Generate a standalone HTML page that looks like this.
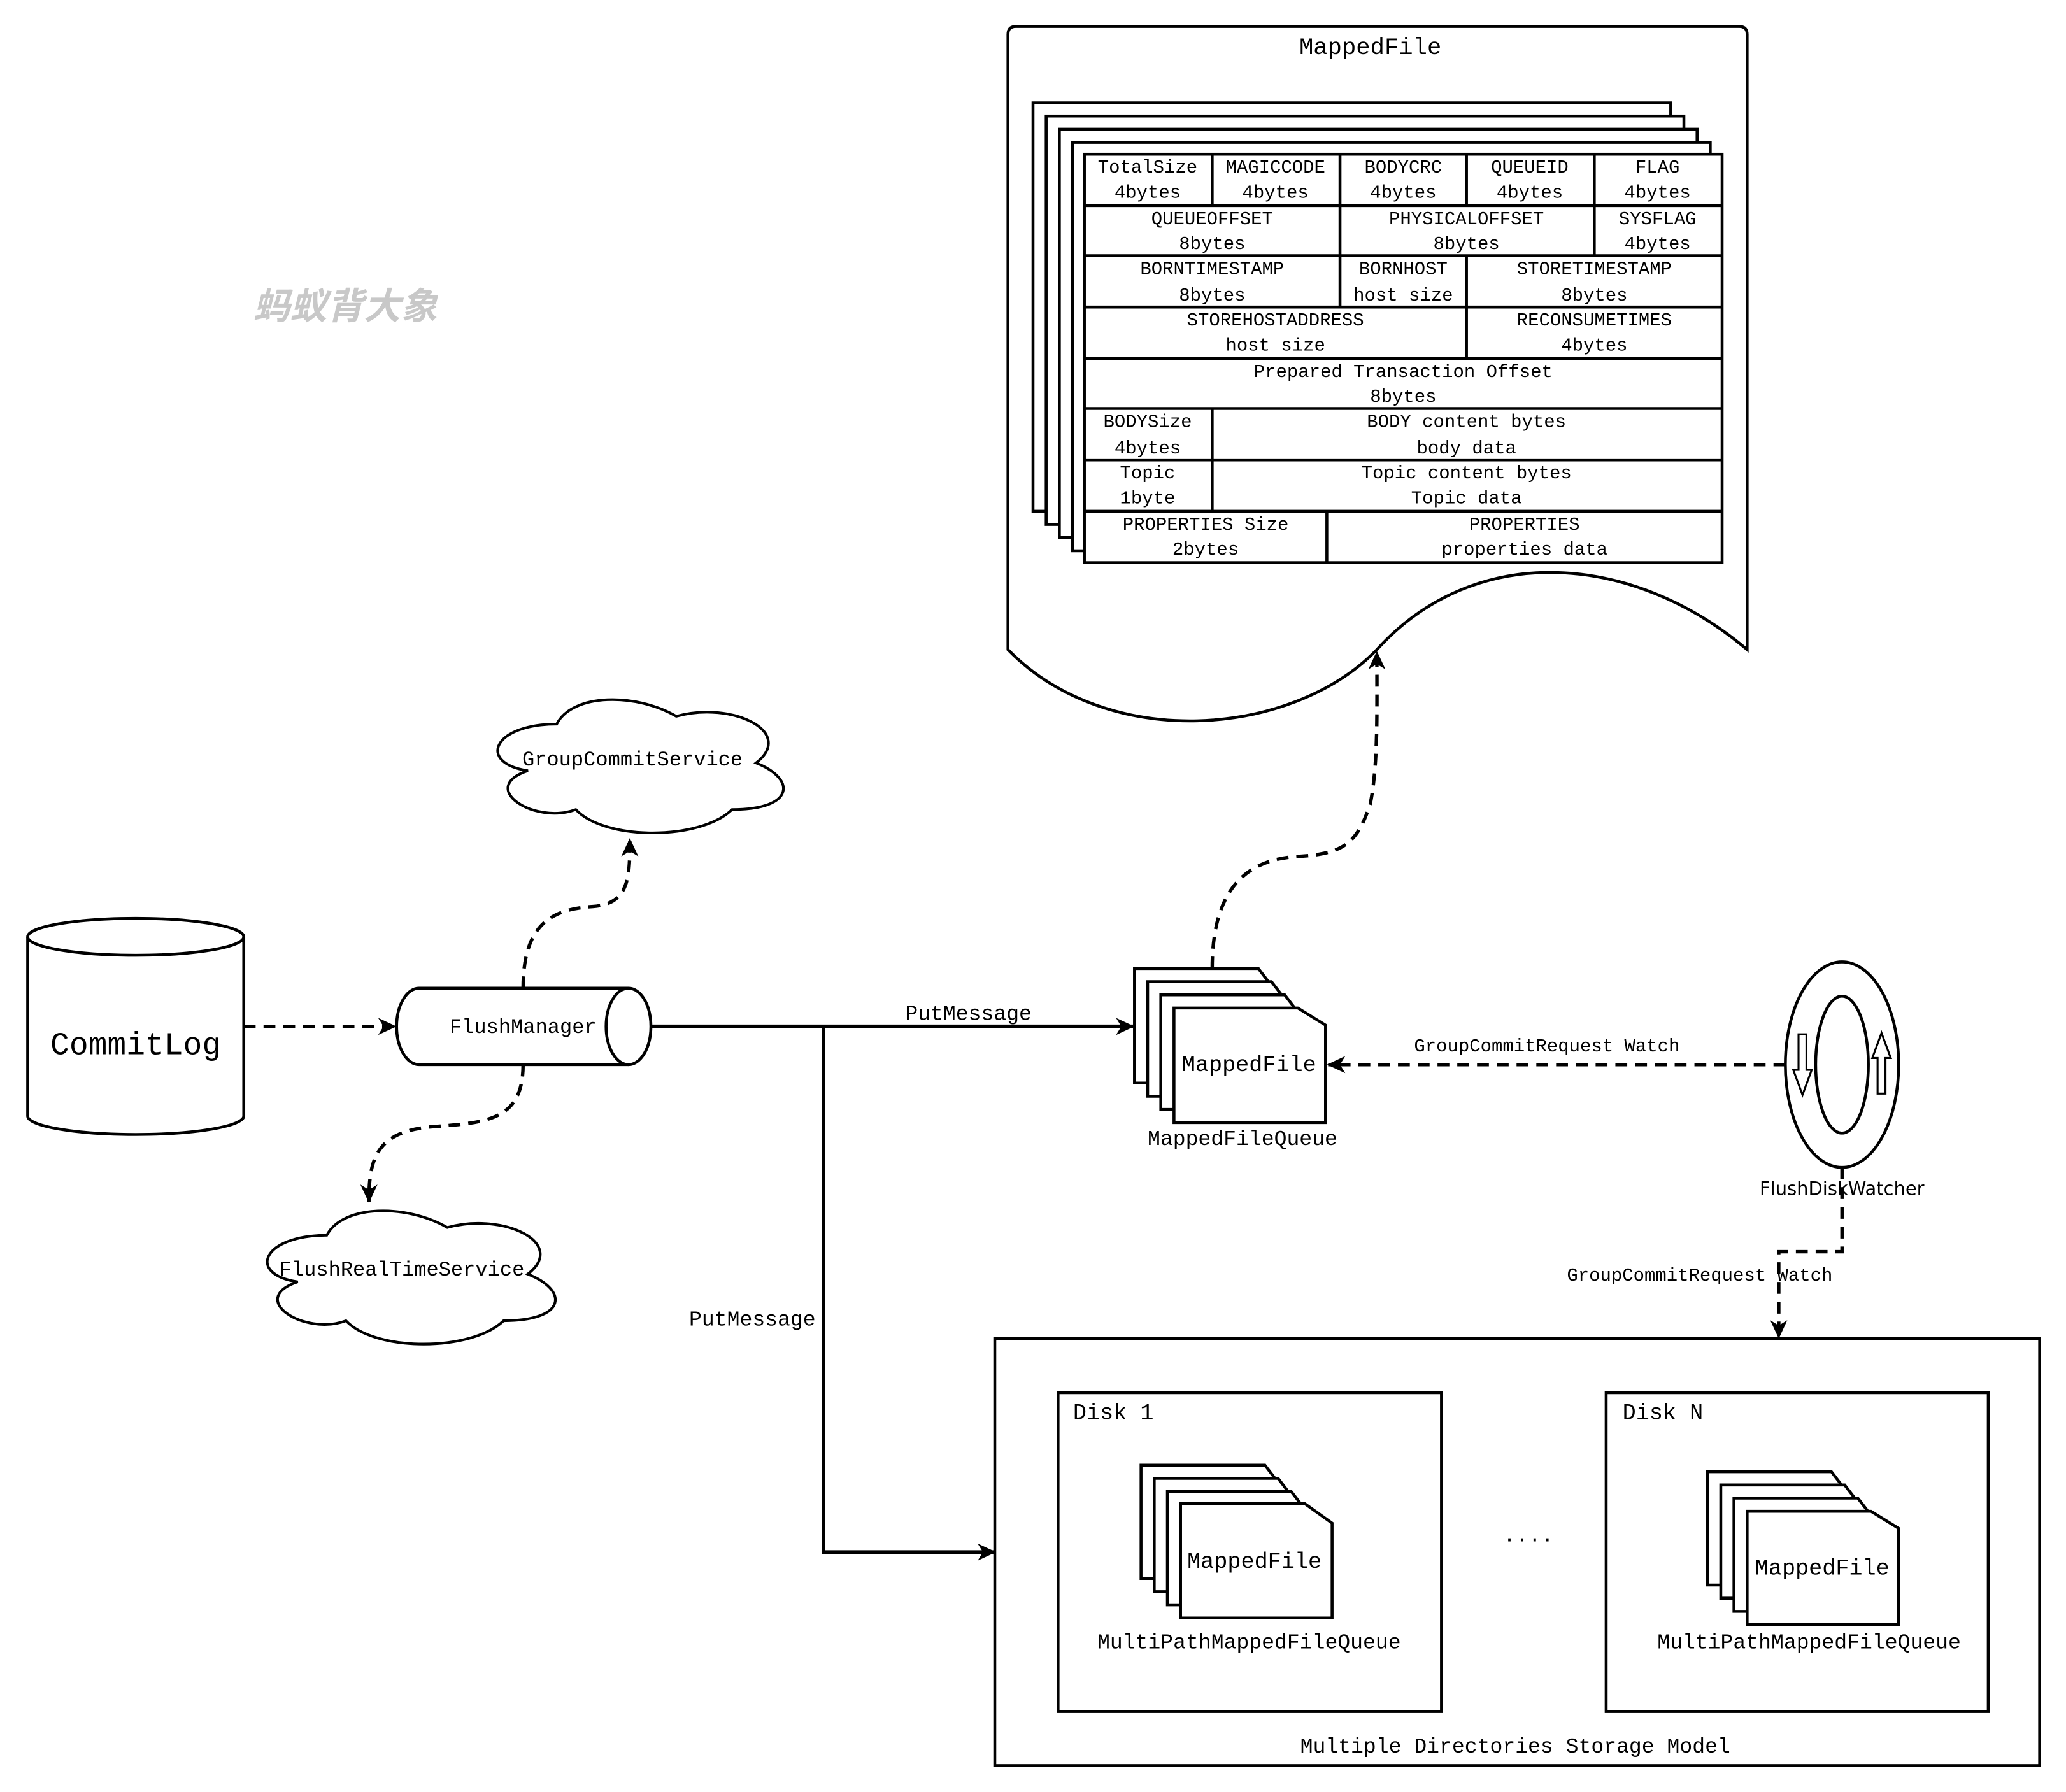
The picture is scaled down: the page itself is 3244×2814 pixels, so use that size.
<!DOCTYPE html>
<html><head><meta charset="utf-8"><style>
html,body{margin:0;padding:0;background:#fff;}
svg{display:block;}
text{font-family:"Liberation Mono","DejaVu Sans Mono",monospace;font-size:14px;fill:#000;text-anchor:middle;}
</style></head><body>
<svg width="3244" height="2814" viewBox="0 0 1568 1360" xmlns="http://www.w3.org/2000/svg">
<defs>
<marker id="ah" markerWidth="16" markerHeight="16" refX="13" refY="8" orient="auto" markerUnits="userSpaceOnUse">
<path d="M0,1.5 L14,8 L0,14.5 L4,8 Z" fill="#000"/>
</marker>
</defs>
<rect width="1568" height="1360" fill="#fff"/>
<g fill="none" stroke="#000" stroke-width="2.2">

<path d="M771,20 H1320 Q1326,20 1326,26 V493 C1240,420 1120,410 1045,493 C980,560 840,570 765,493 V26 Q765,20 771,20 Z" fill="#fff"/>
<rect x="784" y="78" width="484" height="310" fill="#fff"/>
<rect x="794" y="88" width="484" height="310" fill="#fff"/>
<rect x="804" y="98" width="484" height="310" fill="#fff"/>
<rect x="814" y="108" width="484" height="310" fill="#fff"/>
<rect x="823" y="117" width="484" height="310" fill="#fff"/>
<path d="M823,156 H1307 M823,194 H1307 M823,233 H1307 M823,272 H1307 M823,310 H1307 M823,349 H1307 M823,388 H1307"/>
<path d="M920,117 V156 M1017,117 V156 M1113,117 V156 M1210,117 V156"/>
<path d="M1017,156 V194 M1210,156 V194"/>
<path d="M1017,194 V233 M1113,194 V233"/>
<path d="M1113,233 V272"/>
<path d="M920,310 V388 M1007,388 V427"/>

<path d="M21,711 V847 A82,14 0 0 0 185,847 V711" fill="#fff"/>
<ellipse cx="103" cy="711" rx="82" ry="14" fill="#fff"/>

<path d="M477,750 H318 A17,29 0 0 0 318,808 H477" fill="#fff"/>
<ellipse cx="477" cy="779" rx="17" ry="29" fill="#fff"/>

<path fill="#fff" stroke-width="2" d="M422.5,549.5 C374.1,549.5 362,579 400.7,584.9 C362,597.9 405.6,626.2 437,614.4 C458.8,638 531.4,638 555.6,614.4 C604,614.4 604,590.8 573.8,579 C604,555.4 555.6,531.8 513.3,543.6 C483,525.9 434.6,525.9 422.5,549.5 Z"/>
<path fill="#fff" stroke-width="2" d="M248,937.5 C199.2,937.5 187,967 226,972.9 C187,985.9 230.9,1014.2 262.6,1002.4 C284.6,1026 357.8,1026 382.2,1002.4 C431,1002.4 431,978.8 400.5,967 C431,943.4 382.2,919.8 339.5,931.6 C309,913.9 260.2,913.9 248,937.5 Z"/>

<g stroke-width="2.6" stroke-dasharray="9,6">
<path d="M185,779 H300" marker-end="url(#ah)"/>
<path d="M397,750 C397,700 420,690 450,688 C478,686 478,665 478,637" marker-end="url(#ah)"/>
<path d="M397,808 C397,850 370,852 330,855 C285,858 280,880 280,912" marker-end="url(#ah)"/>
<path d="M920,735 C920,670 950,652 985,650 C1020,648 1030,640 1040,610 C1046,580 1045,540 1045,495" marker-end="url(#ah)"/>
<path d="M1355,808 H1008" marker-end="url(#ah)"/>
<path d="M1398,886 V950 H1350 V1015" marker-end="url(#ah)"/>
</g>
<path d="M494,779 H860" stroke-width="2.8" marker-end="url(#ah)"/>
<path d="M625,779 V1178 H755" stroke-width="2.8" marker-end="url(#ah)"/>

<g fill="#fff">
<path d="M861,735 H955 L978,765 V822 H861 Z"/>
<path d="M871,745 H965 L988,775 V832 H871 Z"/>
<path d="M881,755 H975 L998,785 V842 H881 Z"/>
<path d="M891,765 H985 L1006,778 V852 H891 Z"/>
</g>

<ellipse cx="1398" cy="808" rx="43" ry="78" fill="#fff"/>
<ellipse cx="1398" cy="808" rx="20" ry="52"/>
<path d="M1365,785 H1371 V812 H1375 L1368,831 L1361,812 H1365 Z" stroke-width="1.5"/>
<path d="M1425,830 H1431 V803 H1435 L1428,784 L1421,803 H1425 Z" stroke-width="1.5"/>

<rect x="755" y="1016" width="793" height="324"/>
<rect x="803" y="1057" width="291" height="242"/>
<rect x="1219" y="1057" width="290" height="242"/>
<g fill="#fff">
<path d="M866,1112 H960 L983,1142 V1198 H866 Z"/>
<path d="M876,1122 H970 L993,1152 V1208 H876 Z"/>
<path d="M886,1132 H980 L1003,1162 V1218 H886 Z"/>
<path d="M896,1141 H990 L1011,1156 V1228 H896 Z"/>
<path d="M1296,1117 H1390 L1413,1147 V1203 H1296 Z"/>
<path d="M1306,1127 H1400 L1423,1157 V1213 H1306 Z"/>
<path d="M1316,1137 H1410 L1433,1167 V1223 H1316 Z"/>
<path d="M1326,1147 H1420 L1441,1160 V1233 H1326 Z"/>
</g>
</g>

<text x="1040" y="41" style="font-size:18px">MappedFile</text>
<g style="font-size:14.5px">
<text x="871" y="131">TotalSize</text><text x="871" y="150">4bytes</text>
<text x="968" y="131">MAGICCODE</text><text x="968" y="150">4bytes</text>
<text x="1065" y="131">BODYCRC</text><text x="1065" y="150">4bytes</text>
<text x="1161" y="131">QUEUEID</text><text x="1161" y="150">4bytes</text>
<text x="1258" y="131">FLAG</text><text x="1258" y="150">4bytes</text>
<text x="920" y="170">QUEUEOFFSET</text><text x="920" y="189">8bytes</text>
<text x="1113" y="170">PHYSICALOFFSET</text><text x="1113" y="189">8bytes</text>
<text x="1258" y="170">SYSFLAG</text><text x="1258" y="189">4bytes</text>
<text x="920" y="208">BORNTIMESTAMP</text><text x="920" y="228">8bytes</text>
<text x="1065" y="208">BORNHOST</text><text x="1065" y="228">host size</text>
<text x="1210" y="208">STORETIMESTAMP</text><text x="1210" y="228">8bytes</text>
<text x="968" y="247">STOREHOSTADDRESS</text><text x="968" y="266">host size</text>
<text x="1210" y="247">RECONSUMETIMES</text><text x="1210" y="266">4bytes</text>
<text x="1065" y="286">Prepared Transaction Offset</text><text x="1065" y="305">8bytes</text>
<text x="871" y="324">BODYSize</text><text x="871" y="344">4bytes</text>
<text x="1113" y="324">BODY content bytes</text><text x="1113" y="344">body data</text>
<text x="871" y="363">Topic</text><text x="871" y="382">1byte</text>
<text x="1113" y="363">Topic content bytes</text><text x="1113" y="382">Topic data</text>
<text x="915" y="402">PROPERTIES Size</text><text x="915" y="421">2bytes</text>
<text x="1157" y="402">PROPERTIES</text><text x="1157" y="421">properties data</text>
</g>
<text x="262" y="242" style="font-family:'Liberation Sans','Noto Sans CJK SC',sans-serif;font-size:28px;font-weight:bold;font-style:italic;fill:#c8c8c8">蚂蚁背大象</text>
<text x="103" y="800" style="font-size:24px">CommitLog</text>
<text x="397" y="784" style="font-size:15.5px">FlushManager</text>
<text x="480" y="581" style="font-size:15.5px">GroupCommitService</text>
<text x="305" y="968" style="font-size:15.5px">FlushRealTimeService</text>
<text x="735" y="774" style="font-size:16px">PutMessage</text>
<text x="571" y="1006" style="font-size:16px">PutMessage</text>
<text x="948" y="813" style="font-size:17px">MappedFile</text>
<text x="943" y="869" style="font-size:16px">MappedFileQueue</text>
<text x="1174" y="798">GroupCommitRequest Watch</text>
<text x="1398" y="907" style="font-family:'DejaVu Sans',sans-serif;font-size:14px">FlushDiskWatcher</text>
<text x="1290" y="972">GroupCommitRequest Watch</text>
<text x="845" y="1077" style="font-size:17px">Disk 1</text>
<text x="1262" y="1077" style="font-size:17px">Disk N</text>
<text x="952" y="1190" style="font-size:17px">MappedFile</text>
<text x="1383" y="1195" style="font-size:17px">MappedFile</text>
<text x="948" y="1251" style="font-size:16px">MultiPathMappedFileQueue</text>
<text x="1373" y="1251" style="font-size:16px">MultiPathMappedFileQueue</text>
<text x="1160" y="1170" style="font-size:16px">....</text>
<text x="1150" y="1330" style="font-size:16px">Multiple Directories Storage Model</text>
</svg>
</body></html>
